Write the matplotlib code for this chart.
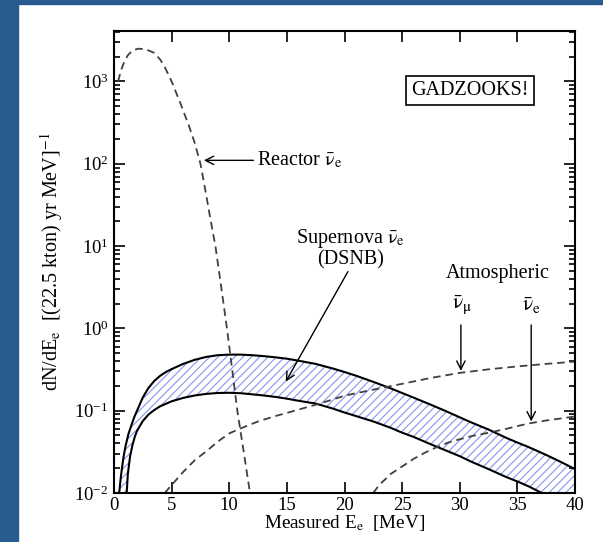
"""Expected event spectra in a gadolinium-loaded water Cherenkov detector."""

import matplotlib

matplotlib.use("Agg")
import matplotlib.pyplot as plt
import numpy as np
from matplotlib.patches import Rectangle
from matplotlib.ticker import LogLocator, NullFormatter, FixedLocator

# reactor antineutrinos (dashed)
reactor_e = [0.35, 0.6, 0.9, 1.2, 1.6, 2.1, 2.6, 3.0, 3.5, 4.0, 4.4, 5.0, 5.8, 6.5, 7.0, 7.5, 7.9, 8.3,
             8.8, 9.3, 9.8, 10.25, 10.7, 11.25, 11.8]
reactor_n = [1000, 1350, 1750, 2080, 2370, 2500, 2470, 2380, 2220, 1850, 1500, 1000, 525, 290, 180, 100,
             50, 24, 10, 3.2, 1.0, 0.32, 0.1, 0.032, 0.01]

# DSNB band: upper edge
dsnb_hi_e = [0.45, 0.6, 0.8, 1.0, 1.25, 1.5, 1.75, 2.0, 2.5, 3.0, 3.5, 4.0, 4.5, 5.0, 6.0, 7.0, 8.0, 9.0,
             10.0, 11.0, 12.0, 13.0, 14.0, 15.0, 16.0, 17.5, 19.0, 20.0, 21.0, 22.5, 24.0, 25.0, 26.0,
             27.5, 29.0, 30.0, 31.0, 32.5, 34.0, 35.0, 36.0, 37.5, 39.0, 40.0]
dsnb_hi_n = [0.01, 0.016, 0.026, 0.037, 0.052, 0.066, 0.083, 0.10, 0.145, 0.19, 0.23, 0.265, 0.295,
             0.32, 0.37, 0.415, 0.45, 0.472, 0.48, 0.48, 0.472, 0.46, 0.445, 0.428, 0.405, 0.37, 0.325,
             0.295, 0.266, 0.224, 0.187, 0.164, 0.144, 0.118, 0.096, 0.083, 0.072, 0.059, 0.047, 0.041,
             0.036, 0.029, 0.023, 0.0195]

# DSNB band: lower edge
dsnb_lo_e = [1.1, 1.2, 1.4, 1.6, 1.8, 2.0, 2.5, 3.0, 3.5, 4.0, 5.0, 6.0, 7.0, 8.0, 9.0, 10.0, 11.0, 12.0,
             13.0, 14.0, 15.0, 16.0, 17.5, 19.0, 20.0, 21.0, 22.5, 24.0, 25.0, 26.0, 27.5, 29.0, 30.0,
             31.0, 32.5, 34.0, 35.0, 36.0, 37.0, 37.5, 40.0]
dsnb_lo_n = [0.01, 0.017, 0.028, 0.038, 0.048, 0.057, 0.075, 0.09, 0.102, 0.113, 0.13, 0.143, 0.153,
             0.16, 0.164, 0.165, 0.163, 0.158, 0.153, 0.147, 0.14, 0.132, 0.122, 0.106, 0.095, 0.086,
             0.074, 0.062, 0.054, 0.048, 0.039, 0.032, 0.028, 0.024, 0.0195, 0.0157, 0.0138, 0.012,
             0.0102, 0.0094, 0.0065]

# atmospheric backgrounds (dashed)
atm_mu_e = [4.4, 5.0, 6.0, 7.0, 8.0, 9.0, 10.0, 11.0, 12.5, 14.0, 15.0, 16.0, 17.5, 19.0, 20.0, 21.0,
            22.5, 23.3, 25.0, 27.5, 30.0, 32.5, 35.0, 37.5, 40.0]
atm_mu_n = [0.01, 0.0125, 0.018, 0.025, 0.032, 0.042, 0.053, 0.061, 0.074, 0.086, 0.094, 0.103, 0.118,
            0.137, 0.152, 0.163, 0.18, 0.19, 0.212, 0.25, 0.288, 0.318, 0.345, 0.37, 0.395]
atm_e_e = [22.5, 23.0, 23.5, 24.0, 25.0, 26.0, 27.0, 28.0, 29.0, 30.0, 31.0, 32.5, 34.0, 35.0, 36.0,
           37.5, 40.0]
atm_e_n = [0.01, 0.0125, 0.0145, 0.017, 0.021, 0.026, 0.031, 0.036, 0.041, 0.045, 0.049, 0.054, 0.06,
           0.065, 0.07, 0.076, 0.085]

x_ticks = [0, 5, 10, 15, 20, 25, 30, 35, 40]

plt.rcParams["font.family"] = ["Liberation Serif", "DejaVu Serif"]
plt.rcParams["mathtext.fontset"] = "stix"
plt.rcParams["hatch.linewidth"] = 0.8
plt.rcParams["lines.scale_dashes"] = False

fig = plt.figure(figsize=(6.03, 5.42), dpi=100)
fig.patch.set_facecolor("white")
frame = "#285b8f"
fig.add_artist(Rectangle((0, 0), 18 / 603, 1, transform=fig.transFigure, color=frame, zorder=0))
fig.add_artist(Rectangle((0, 1 - 4 / 542), 1, 4 / 542, transform=fig.transFigure, color=frame, zorder=0))

ax = fig.add_axes([114 / 603, 1 - 493 / 542, 461 / 603, 462 / 542])
ax.set_yscale("log")
ax.set_xlim(0, 40)
ax.set_ylim(1e-2, 4100)

dash = (5.5, 3.5)
grey = "#404040"
ax.plot(reactor_e, reactor_n, color=grey, lw=1.3, dashes=dash)

band_x = np.concatenate([dsnb_hi_e, dsnb_lo_e[::-1]])
band_y = np.concatenate([dsnb_hi_n, dsnb_lo_n[::-1]])
ax.fill(band_x, band_y, facecolor="white", edgecolor="#8394f0", hatch="////", linewidth=0)
ax.plot(dsnb_hi_e, dsnb_hi_n, color="black", lw=1.5)
ax.plot(dsnb_lo_e, dsnb_lo_n, color="black", lw=1.5)

ax.plot(atm_mu_e, atm_mu_n, color=grey, lw=1.3, dashes=dash)
ax.plot(atm_e_e, atm_e_n, color=grey, lw=1.3, dashes=dash)

nubar_e = r"$\bar{\mathrm{\nu}}_{\mathrm{e}}$"
nubar_mu = r"$\bar{\mathrm{\nu}}_{\mathrm{\mu}}$"
fs = 14.5

arrow = dict(arrowstyle="->", color="black", lw=1.0, mutation_scale=15, shrinkA=0, shrinkB=0)
ax.annotate("", xy=(7.8, 110), xytext=(12.1, 110), arrowprops=arrow)
ax.text(12.4, 110, "Reactor " + nubar_e, fontsize=fs, ha="left", va="center")

ax.text(20.5, 12.2, "Supernova " + nubar_e, fontsize=fs, ha="center", va="center")
ax.text(20.5, 6.8, "(DSNB)", fontsize=fs, ha="center", va="center")
ax.annotate("", xy=(14.9, 0.225), xytext=(20.3, 4.9), arrowprops=arrow)

ax.text(33.3, 4.6, "Atmospheric", fontsize=fs, ha="center", va="center")
ax.text(30.2, 1.9, nubar_mu, fontsize=fs + 1, ha="center", va="center")
ax.text(36.2, 1.9, nubar_e, fontsize=fs + 1, ha="center", va="center")
ax.annotate("", xy=(30.1, 0.305), xytext=(30.1, 1.1), arrowprops=arrow)
ax.annotate("", xy=(36.2, 0.074), xytext=(36.2, 1.1), arrowprops=arrow)

ax.text(0.772, 0.872, "GADZOOKS!", transform=ax.transAxes, fontsize=fs, ha="center", va="center",
        bbox=dict(boxstyle="square,pad=0.25", fc="white", ec="black", lw=1.2))

ax.xaxis.set_major_locator(FixedLocator(x_ticks))
ax.yaxis.set_major_locator(LogLocator(base=10, numticks=10))
ax.yaxis.set_minor_locator(LogLocator(base=10, subs=range(2, 10), numticks=10))
ax.yaxis.set_minor_formatter(NullFormatter())
ax.tick_params(which="both", direction="in", top=True, right=True, width=1.2, labelsize=13.5)
ax.tick_params(which="major", length=8)
ax.tick_params(which="minor", length=4.5)
ax.tick_params(axis="x", pad=3)
ax.tick_params(axis="y", pad=4)
for spine in ax.spines.values():
    spine.set_linewidth(1.5)

ax.set_xlabel(r"Measured E$_{\mathrm{e}}$  [MeV]", fontsize=13.8, labelpad=-1)
ax.set_ylabel(r"dN/dE$_{\mathrm{e}}$  [(22.5 kton) yr MeV]$^{-1}$", fontsize=fs, labelpad=7)

fig.savefig("out.png", dpi=100)
